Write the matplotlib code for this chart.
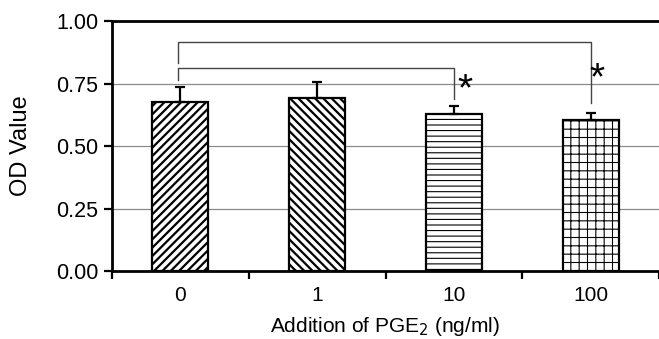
import numpy as np
import matplotlib
matplotlib.use("Agg")
import matplotlib.pyplot as plt

plt.rcParams['font.family'] = ['Liberation Sans', 'DejaVu Sans']

doses = ["0", "1", "10", "100"]
od_means = [0.677, 0.691, 0.627, 0.604]
od_err = [0.059, 0.066, 0.033, 0.027]
hatches = ["////", "\\\\\\\\", "---", "++"]
hatch_widths = [1.6, 1.6, 0.8, 0.8]

# significance brackets: (from, to, top, left drop end, right drop end)
brackets = [(0, 2, 0.813, 0.764, 0.688), (0, 3, 0.917, 0.833, 0.672)]
stars = [(2.08, 0.683), (3.045, 0.728)]

fig = plt.figure(figsize=(6.59, 3.39), dpi=100)
ax = fig.add_axes([0.170, 0.2006, 0.83, 0.7374])

x = np.arange(len(doses))
for i in range(len(doses)):
    plt.rcParams['hatch.linewidth'] = hatch_widths[i]
    b = ax.bar(x[i], od_means[i], width=0.41, color="white", edgecolor="black",
               linewidth=1.6, hatch=hatches[i], zorder=3)
    for p in b:
        if hasattr(p, "set_hatch_linewidth"):
            p.set_hatch_linewidth(hatch_widths[i])
    ax.errorbar(x[i], od_means[i], yerr=[[0], [od_err[i]]], fmt="none", ecolor="black",
                elinewidth=1.6, capsize=3.5, capthick=1.6, zorder=4)

for a, c, top, ld, rd in brackets:
    xa, xc = a - 0.02, c
    ax.plot([xa, xa, xc, xc], [ld, top, top, rd], color="#444444", lw=1.0, zorder=2)
for sx, sy in stars:
    ax.text(sx, sy, "*", fontsize=28, ha="center", va="baseline")

ax.set_ylim(0, 1.0)
ax.set_xlim(-0.5, 3.5)
ax.set_yticks([0, 0.25, 0.5, 0.75, 1.0])
ax.set_yticklabels(["0.00", "0.25", "0.50", "0.75", "1.00"])
ax.set_xticks(x)
ax.set_xticklabels(doses)
ax.set_xticks(np.arange(-0.5, 4.0, 1.0), minor=True)
ax.tick_params(axis="x", which="major", length=0, pad=11, labelsize=15)
ax.tick_params(axis="x", which="minor", length=6, width=1.6, direction="out")
ax.tick_params(axis="y", length=6, width=1.6, direction="out", labelsize=15.5, pad=4)

for y in [0.25, 0.5, 0.75]:
    ax.axhline(y, color="#8a8a8a", lw=0.9, zorder=1)

for s in ["left", "bottom", "top"]:
    ax.spines[s].set_linewidth(2.0)
ax.spines["right"].set_visible(False)

ax.set_ylabel("OD Value", fontsize=17, labelpad=17)
ax.set_xlabel("Addition of PGE$_2$ (ng/ml)", fontsize=15, labelpad=7)

fig.savefig("out.png", dpi=100)
